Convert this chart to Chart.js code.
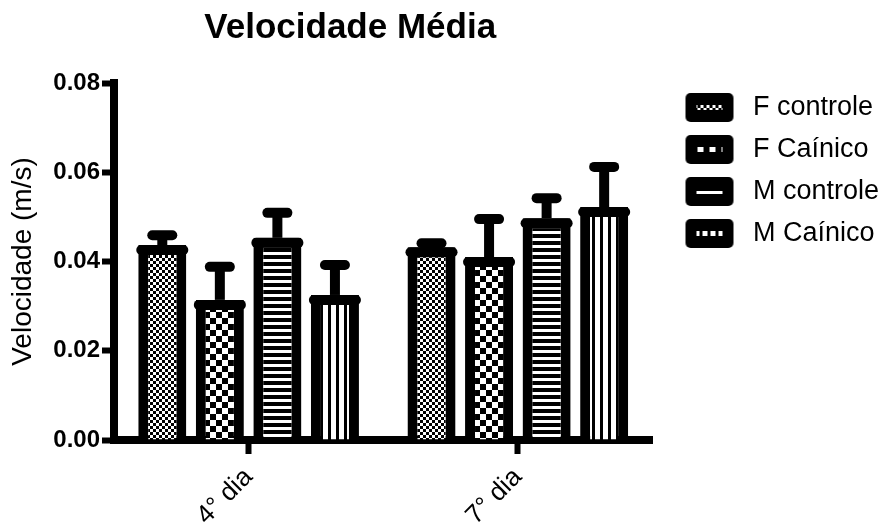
<!DOCTYPE html>
<html>
<head>
<meta charset="utf-8">
<title>Velocidade Média</title>
<script src="https://cdn.jsdelivr.net/npm/chart.js@4.4.0/dist/chart.umd.min.js"></script>
<style>
  body { margin: 0; background: #fff; }
  #wrap { width: 892px; height: 531px; }
</style>
</head>
<body>
<div id="wrap"><canvas id="myChart"></canvas></div>
<script>
// valores
var categories = ["4° dia", "7° dia"];
var seriesNames = ["F controle", "F Caínico", "M controle", "M Caínico"];
var fControle = [0.0437, 0.0432];
var fCainico = [0.0314, 0.041];
var mControle = [0.0453, 0.0497];
var mCainico = [0.0325, 0.0522];
// erro padrão (SEM)
var fControleSem = [0.0022, 0.0009];
var fCainicoSem = [0.0074, 0.0085];
var mControleSem = [0.0056, 0.0045];
var mCainicoSem = [0.0067, 0.009];
var yTicks = [0, 0.02, 0.04, 0.06, 0.08];

var values = [fControle, fCainico, mControle, mCainico];
var sems = [fControleSem, fCainicoSem, mControleSem, mCainicoSem];

Chart.defaults.font.family = "'Liberation Sans', Arial, sans-serif";
Chart.defaults.color = "#000";

function makeTile(w, h, draw) {
  var c = document.createElement("canvas");
  c.width = w;
  c.height = h;
  var g = c.getContext("2d");
  g.fillStyle = "#fff";
  g.fillRect(0, 0, w, h);
  g.fillStyle = "#000";
  draw(g);
  return c;
}

var tiles = [
  makeTile(6, 6, function (g) { g.fillRect(0, 0, 3, 3); g.fillRect(3, 3, 3, 3); }),
  makeTile(12, 12, function (g) { g.fillRect(0, 0, 6, 6); g.fillRect(6, 6, 6, 6); }),
  makeTile(1, 7, function (g) { g.fillRect(0, 3, 1, 4); }),
  makeTile(8, 1, function (g) { g.fillRect(0, 0, 3, 1); }),
];

var ctx = document.getElementById("myChart").getContext("2d");
var patterns = tiles.map(function (t) { return ctx.createPattern(t, "repeat"); });

// símbolo da legenda: caixa preta arredondada com uma faixa do padrão
function makeSwatch(tile) {
  var c = document.createElement("canvas");
  c.width = 72;
  c.height = 29;
  var g = c.getContext("2d");
  g.fillStyle = "#000";
  g.beginPath();
  if (g.roundRect) {
    g.roundRect(18, 0, 48, 29, 5);
  } else {
    g.rect(18, 0, 48, 29);
  }
  g.fill();
  g.fillStyle = g.createPattern(tile, "repeat");
  g.fillRect(29, 12, 26, 5);
  return c;
}
var swatches = tiles.map(makeSwatch);

var datasets = seriesNames.map(function (name, i) {
  return {
    label: name,
    data: values[i],
    backgroundColor: patterns[i],
    borderColor: "#000",
    borderWidth: 10,
    borderSkipped: "start",
    categoryPercentage: 0.855,
    barPercentage: 0.835,
  };
});

var errorBars = {
  id: "errorBars",
  afterLayout: function (chart) {
    // título centrado na parte à esquerda da legenda
    chart.titleBlock.left = 0;
    chart.titleBlock.right = chart.legend.left + 48;
  },
  afterDatasetsDraw: function (chart) {
    var c = chart.ctx;
    var yScale = chart.scales.y;
    c.save();
    c.strokeStyle = "#000";
    c.lineWidth = 10;
    chart.data.datasets.forEach(function (ds, i) {
      chart.getDatasetMeta(i).data.forEach(function (bar, j) {
        var top = yScale.getPixelForValue(values[i][j] + sems[i][j]);
        var half = bar.width / 2;
        // topo arredondado da barra
        c.lineCap = "round";
        c.beginPath();
        c.moveTo(bar.x - half + 3, bar.y + 5);
        c.lineTo(bar.x + half - 3, bar.y + 5);
        c.stroke();
        // haste
        c.lineCap = "butt";
        c.beginPath();
        c.moveTo(bar.x, bar.y);
        c.lineTo(bar.x, top);
        c.stroke();
        // traço do erro
        c.lineCap = "round";
        c.beginPath();
        c.moveTo(bar.x - 10, top);
        c.lineTo(bar.x + 10, top);
        c.stroke();
      });
    });
    c.restore();
  },
};

var myChart = new Chart(ctx, {
  type: "bar",
  data: {
    labels: categories,
    datasets: datasets,
  },
  plugins: [errorBars],
  options: {
    animation: false,
    responsive: true,
    maintainAspectRatio: false,
    layout: { padding: { left: 2, right: 3, top: 0, bottom: 0 } },
    plugins: {
      title: {
        display: true,
        text: "Velocidade Média",
        font: { size: 35, weight: "bold" },
        padding: { top: 7, bottom: 34 },
      },
      legend: {
        position: "right",
        align: "start",
        maxWidth: 260,
        // título vazio só para descer os itens
        title: { display: true, text: "", font: { size: 10 }, padding: { top: 67, bottom: 0 } },
        labels: {
          usePointStyle: true,
          pointStyleWidth: 72,
          padding: 15,
          font: { size: 27 },
          generateLabels: function (chart) {
            var items = Chart.defaults.plugins.legend.labels.generateLabels(chart);
            items.forEach(function (it, i) { it.pointStyle = swatches[i]; });
            return items;
          },
        },
      },
      tooltip: { enabled: false },
    },
    scales: {
      x: {
        grid: {
          offset: false,
          drawOnChartArea: false,
          tickLength: 14,
          tickWidth: 6,
          tickColor: "#000",
        },
        border: { display: true, width: 8, color: "#000" },
        ticks: { font: { size: 26 }, minRotation: 45, maxRotation: 45, padding: 8 },
        afterFit: function (scale) { scale.height = 91; },
      },
      y: {
        min: yTicks[0],
        max: yTicks[yTicks.length - 1],
        afterBuildTicks: function (scale) {
          scale.ticks = yTicks.map(function (v) { return { value: v }; });
        },
        grid: {
          drawOnChartArea: false,
          tickLength: 12,
          tickWidth: 6,
          tickColor: "#000",
        },
        border: { display: true, width: 8, color: "#000" },
        ticks: {
          font: { size: 24, weight: "bold" },
          padding: 2,
          callback: function (v) { return Number(v).toFixed(2); },
        },
        title: {
          display: true,
          text: "Velocidade (m/s)",
          font: { size: 28 },
          padding: { top: 4, bottom: 4 },
        },
        afterFit: function (scale) { scale.width = 112; },
      },
    },
  },
});
</script>
</body>
</html>
